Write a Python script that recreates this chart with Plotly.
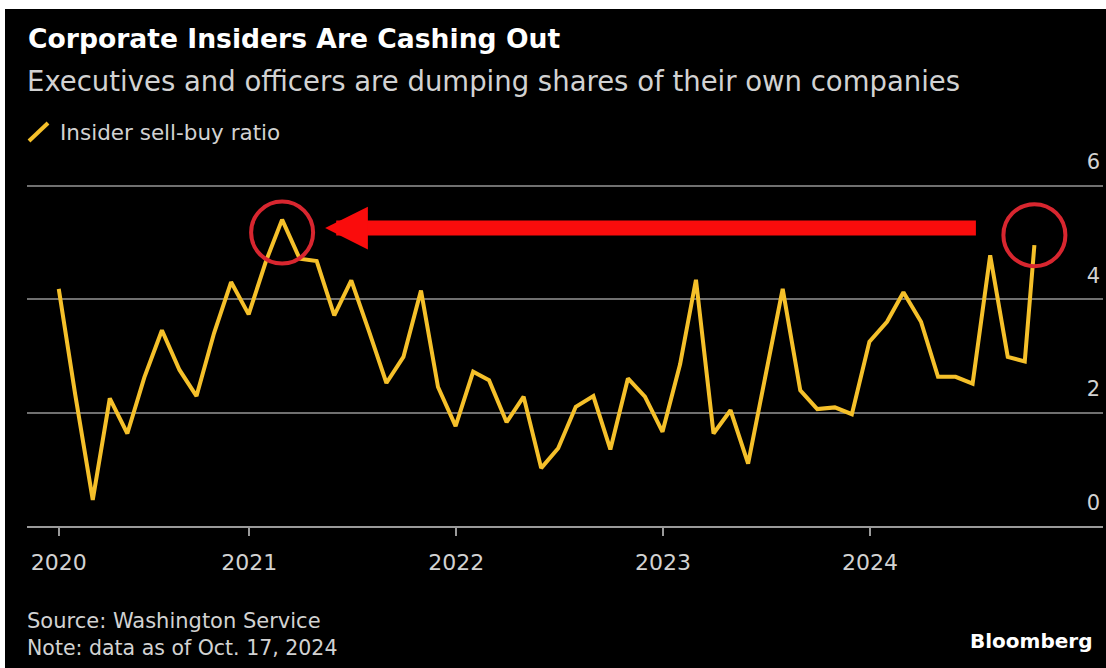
import plotly.graph_objects as go

# Monthly insider sell-buy ratio (month-end readings, last one partial month)
dates = [
    "2020-01-31", "2020-02-29", "2020-03-31", "2020-04-30", "2020-05-31", "2020-06-30",
    "2020-07-31", "2020-08-31", "2020-09-30", "2020-10-31", "2020-11-30", "2020-12-31",
    "2021-01-31", "2021-02-28", "2021-03-31", "2021-04-30", "2021-05-31", "2021-06-30",
    "2021-07-31", "2021-08-31", "2021-09-30", "2021-10-31", "2021-11-30", "2021-12-31",
    "2022-01-31", "2022-02-28", "2022-03-31", "2022-04-30", "2022-05-31", "2022-06-30",
    "2022-07-31", "2022-08-31", "2022-09-30", "2022-10-31", "2022-11-30", "2022-12-31",
    "2023-01-31", "2023-02-28", "2023-03-31", "2023-04-30", "2023-05-31", "2023-06-30",
    "2023-07-31", "2023-08-31", "2023-09-30", "2023-10-31", "2023-11-30", "2023-12-31",
    "2024-01-31", "2024-02-29", "2024-03-31", "2024-04-30", "2024-05-31", "2024-06-30",
    "2024-07-31", "2024-08-31", "2024-09-30", "2024-10-17",
]
ratio = [
    4.18, 2.32, 0.46, 2.25, 1.63, 2.62, 3.45, 2.75, 2.29, 3.40, 4.30, 3.73,
    4.68, 5.40, 4.71, 4.67, 3.71, 4.33, 3.44, 2.52, 2.98, 4.15, 2.45, 1.76,
    2.72, 2.57, 1.83, 2.28, 1.02, 1.37, 2.10, 2.29, 1.35, 2.60, 2.28, 1.66,
    2.85, 4.34, 1.63, 2.04, 1.10, 2.65, 4.18, 2.39, 2.06, 2.09, 1.97, 3.25,
    3.60, 4.12, 3.60, 2.63, 2.63, 2.51, 4.77, 2.98, 2.90, 4.95,
]

x_tick_dates = ["2020-01-31", "2021-01-01", "2022-01-01", "2023-01-01", "2024-01-01"]
x_tick_labels = ["2020", "2021", "2022", "2023", "2024"]
y_ticks = [0, 2, 4, 6]

# Highlighted readings: the early-2021 peak and the latest reading
peak_i = ratio.index(max(ratio))
last_i = len(ratio) - 1
arrow_level = 5.25

W, H = 1106, 668
Y_MAX = 6.75
L, R, B = 27, 3, 142
T = H - B - round(Y_MAX * 56.8)

def px_x(px):
    return (px - L) / (W - L - R)

def px_y(py):
    return (H - B - py) / (H - T - B)

YELLOW = "#f5c02a"
RED_RING = "#d8262f"
RED_ARROW = "#fa0c0c"
TEXT = "#d2d2d2"
FONT = "DejaVu Sans"

fig = go.Figure()
fig.add_trace(go.Scatter(
    x=dates, y=ratio, mode="lines",
    line=dict(color=YELLOW, width=4),
    name="Insider sell-buy ratio", showlegend=False,
))

annotations = [
    dict(text="<b>Corporate Insiders Are Cashing Out</b>", x=px_x(26), y=px_y(39),
         font=dict(size=26.6, color="#ffffff", family=FONT)),
    dict(text="Executives and officers are dumping shares of their own companies",
         x=px_x(25), y=px_y(81), font=dict(size=27.5, color=TEXT, family=FONT)),
    dict(text="Insider sell-buy ratio", x=px_x(58), y=px_y(132),
         font=dict(size=21.5, color=TEXT, family=FONT)),
    dict(text="Source: Washington Service", x=px_x(25), y=px_y(621),
         font=dict(size=21, color=TEXT, family=FONT)),
    dict(text="Note: data as of Oct. 17, 2024", x=px_x(25), y=px_y(648),
         font=dict(size=20.5, color=TEXT, family=FONT)),
]
for a in annotations:
    a.update(xref="paper", yref="paper", xanchor="left", yanchor="middle", showarrow=False)
annotations.append(dict(
    text="<b>Bloomberg</b>", x=px_x(1094), y=px_y(641), xref="paper", yref="paper",
    xanchor="right", yanchor="middle", showarrow=False,
    font=dict(size=20, color="#ffffff", family=FONT),
))
# Arrow pointing from the latest reading back to the 2021 peak
annotations.append(dict(
    x=dates[peak_i], y=arrow_level, ax=dates[last_i], ay=arrow_level,
    xref="x", yref="y", axref="x", ayref="y", text="",
    showarrow=True, arrowhead=2, arrowsize=0.57, arrowwidth=15,
    arrowcolor=RED_ARROW, standoff=43, startstandoff=57,
))

shapes = [
    # Rings around the peak and the latest reading
    dict(type="circle", xref="x", yref="y", xsizemode="pixel", ysizemode="pixel",
         xanchor=dates[peak_i], yanchor=ratio[peak_i], x0=-31, x1=31, y0=-44, y1=18,
         line=dict(color=RED_RING, width=4)),
    dict(type="circle", xref="x", yref="y", xsizemode="pixel", ysizemode="pixel",
         xanchor=dates[last_i], yanchor=ratio[last_i], x0=-31, x1=31, y0=-21, y1=41,
         line=dict(color=RED_RING, width=4)),
    # Legend swatch
    dict(type="line", xref="paper", yref="paper", x0=px_x(29), y0=px_y(141),
         x1=px_x(48), y1=px_y(123), line=dict(color=YELLOW, width=4)),
    # Frame edges
    dict(type="rect", xref="paper", yref="paper", x0=px_x(0), x1=px_x(W),
         y0=px_y(9), y1=px_y(0), fillcolor="#ffffff", line=dict(width=0)),
    dict(type="rect", xref="paper", yref="paper", x0=px_x(0), x1=px_x(5),
         y0=px_y(H), y1=px_y(0), fillcolor="#ffffff", line=dict(width=0)),
]

fig.update_layout(
    width=W, height=H,
    margin=dict(l=L, r=R, t=T, b=B, autoexpand=False),
    paper_bgcolor="#000000", plot_bgcolor="#000000",
    font=dict(family=FONT, color=TEXT),
    showlegend=False,
    annotations=annotations,
    shapes=shapes,
    xaxis=dict(
        type="date", range=["2019-12-06", "2025-02-15"],
        tickmode="array", tickvals=x_tick_dates, ticktext=x_tick_labels,
        ticks="outside", ticklen=8, tickwidth=2, tickcolor="#9a9a9a",
        showline=True, linecolor="#9a9a9a", linewidth=2,
        showgrid=False, zeroline=False,
        tickfont=dict(size=22, color=TEXT, family=FONT), ticklabelstandoff=8,
    ),
    yaxis=dict(
        range=[0, Y_MAX], tickmode="array", tickvals=y_ticks,
        side="right", ticklabelposition="inside top", ticklabelshift=-9,
        showgrid=True, gridcolor="#707070", gridwidth=2,
        zeroline=False, showline=False, ticks="",
        tickfont=dict(size=21, color=TEXT, family=FONT),
    ),
)

fig.write_html("out.html")
